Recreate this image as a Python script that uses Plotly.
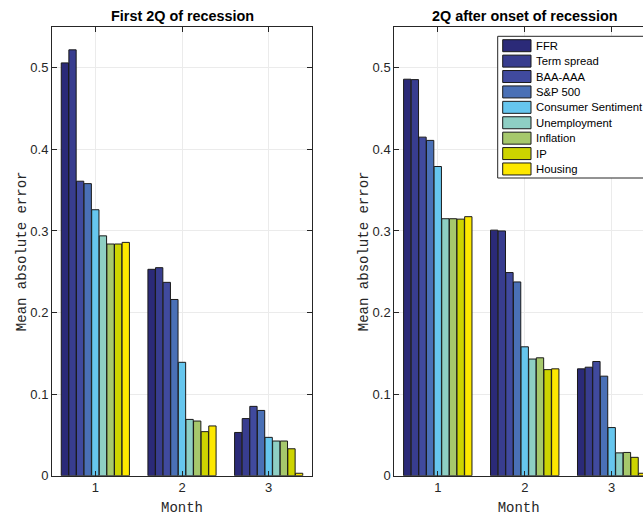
import plotly.graph_objects as go

# ---- data ----
months = [1, 2, 3]
series_names = ["FFR", "Term spread", "BAA-AAA", "S&P 500", "Consumer Sentiment",
                "Unemployment", "Inflation", "IP", "Housing"]
series_colors = ["#2b2a78", "#383d8f", "#404a9e", "#4a70b6", "#66c6ee",
                 "#8ecfc4", "#a6c86c", "#cdd400", "#fde800"]

# First 2Q of recession: values per series for months 1,2,3
first_ffr = [0.506, 0.253, 0.053]
first_term = [0.522, 0.255, 0.070]
first_baa = [0.361, 0.237, 0.085]
first_sp = [0.358, 0.216, 0.080]
first_cs = [0.326, 0.139, 0.047]
first_unemp = [0.294, 0.069, 0.0425]
first_infl = [0.284, 0.067, 0.0425]
first_ip = [0.284, 0.054, 0.033]
first_housing = [0.286, 0.061, 0.003]

# 2Q after onset of recession
after_ffr = [0.486, 0.301, 0.131]
after_term = [0.4855, 0.300, 0.133]
after_baa = [0.415, 0.249, 0.140]
after_sp = [0.411, 0.2375, 0.122]
after_cs = [0.379, 0.158, 0.059]
after_unemp = [0.315, 0.143, 0.028]
after_infl = [0.315, 0.1445, 0.0285]
after_ip = [0.3145, 0.130, 0.0225]
after_housing = [0.3175, 0.131, 0.003]

first_series = [first_ffr, first_term, first_baa, first_sp, first_cs,
                first_unemp, first_infl, first_ip, first_housing]
after_series = [after_ffr, after_term, after_baa, after_sp, after_cs,
                after_unemp, after_infl, after_ip, after_housing]

y_ticks = [0, 0.1, 0.2, 0.3, 0.4, 0.5]
y_tick_text = ["0", "0.1", "0.2", "0.3", "0.4", "0.5"]

titles = ["First 2Q of recession", "2Q after onset of recession"]
x_label = "Month"
y_label = "Mean absolute error"

# ---- figure ----
W, H = 643, 516
fig = go.Figure()

for name, color, vals in zip(series_names, series_colors, first_series):
    fig.add_trace(go.Bar(x=months, y=vals, name=name, xaxis="x", yaxis="y",
                         marker=dict(color=color, line=dict(color="#1a1a1a", width=1)),
                         showlegend=False, offsetgroup=name))
for name, color, vals in zip(series_names, series_colors, after_series):
    fig.add_trace(go.Bar(x=months, y=vals, name=name, xaxis="x2", yaxis="y2",
                         marker=dict(color=color, line=dict(color="#1a1a1a", width=1)),
                         showlegend=False, offsetgroup=name))

px = lambda p: p / W
py = lambda p: 1 - p / H

axis_common = dict(
    showline=True, linecolor="#262626", linewidth=1,
    ticks="inside", ticklen=5, tickcolor="#262626",
    showgrid=True, gridcolor="#ebebeb", gridwidth=1,
    zeroline=False,
    tickfont=dict(family="Liberation Sans, Arial", size=13, color="#262626"),
)

y_top, y_bot = 27, 475.7
xdom1 = [px(52), px(312)]
xdom2 = [px(394.3), 1.0]
ydom = [py(y_bot), py(y_top)]

title_font = dict(family="Liberation Mono, Courier New, monospace", size=14, color="#262626")

fig.update_layout(
    width=W, height=H,
    margin=dict(l=0, r=0, t=0, b=0, autoexpand=False),
    paper_bgcolor="white", plot_bgcolor="white",
    barmode="group", bargap=0.21, bargroupgap=0.04,
    xaxis=dict(domain=xdom1, range=[0.5, 3.5], tickvals=months, ticktext=[str(m) for m in months],
               mirror="ticks", anchor="y", automargin=False,
               title=dict(text=x_label, font=title_font, standoff=8), **axis_common),
    yaxis=dict(domain=ydom, range=[0, 0.55], tickvals=y_ticks, ticktext=y_tick_text,
               mirror="ticks", anchor="x", automargin=False,
               title=dict(text=y_label, font=title_font, standoff=0), **axis_common),
    xaxis2=dict(domain=xdom2, range=[0.5, 3.36], tickvals=months, ticktext=[str(m) for m in months],
                mirror="ticks", anchor="y2", automargin=False,
                title=dict(text=x_label, font=title_font, standoff=8), **axis_common),
    yaxis2=dict(domain=ydom, range=[0, 0.55], tickvals=y_ticks, ticktext=y_tick_text,
                mirror=False, anchor="x2", automargin=False,
                title=dict(text=y_label, font=title_font, standoff=0), **axis_common),
)

# subplot titles
fig.add_annotation(x=(xdom1[0] + xdom1[1]) / 2, y=py(16), xref="paper", yref="paper",
                   xanchor="center", yanchor="middle",
                   text="<b>" + titles[0] + "</b>", showarrow=False,
                   font=dict(family="Liberation Sans, Arial", size=14.4, color="#000000"))
fig.add_annotation(x=px(525), y=py(16), xref="paper", yref="paper",
                   xanchor="center", yanchor="middle",
                   text="<b>" + titles[1] + "</b>", showarrow=False,
                   font=dict(family="Liberation Sans, Arial", size=14.4, color="#000000"))

# legend box (drawn in the right panel, as in the reference)
leg_x0, leg_y0, leg_y1 = 497.7, 36.3, 178
fig.add_shape(type="rect", xref="paper", yref="paper",
              x0=px(leg_x0), x1=px(660), y0=py(leg_y1), y1=py(leg_y0),
              line=dict(color="#262626", width=1), fillcolor="white", layer="above")
for i, (name, color) in enumerate(zip(series_names, series_colors)):
    cy = 45.7 + i * 15.41
    fig.add_shape(type="rect", xref="paper", yref="paper",
                  x0=px(502.7), x1=px(531), y0=py(cy + 6), y1=py(cy - 6),
                  line=dict(color="#1a1a1a", width=1), fillcolor=color, layer="above")
    fig.add_annotation(x=px(534), y=py(cy), xref="paper", yref="paper",
                       text=name, showarrow=False, xanchor="left", yanchor="middle",
                       font=dict(family="Liberation Sans, Arial", size=11.3, color="#000000"))

fig.write_html("out.html", post_script="document.body.style.margin='0';",
               config={"displayModeBar": False})
